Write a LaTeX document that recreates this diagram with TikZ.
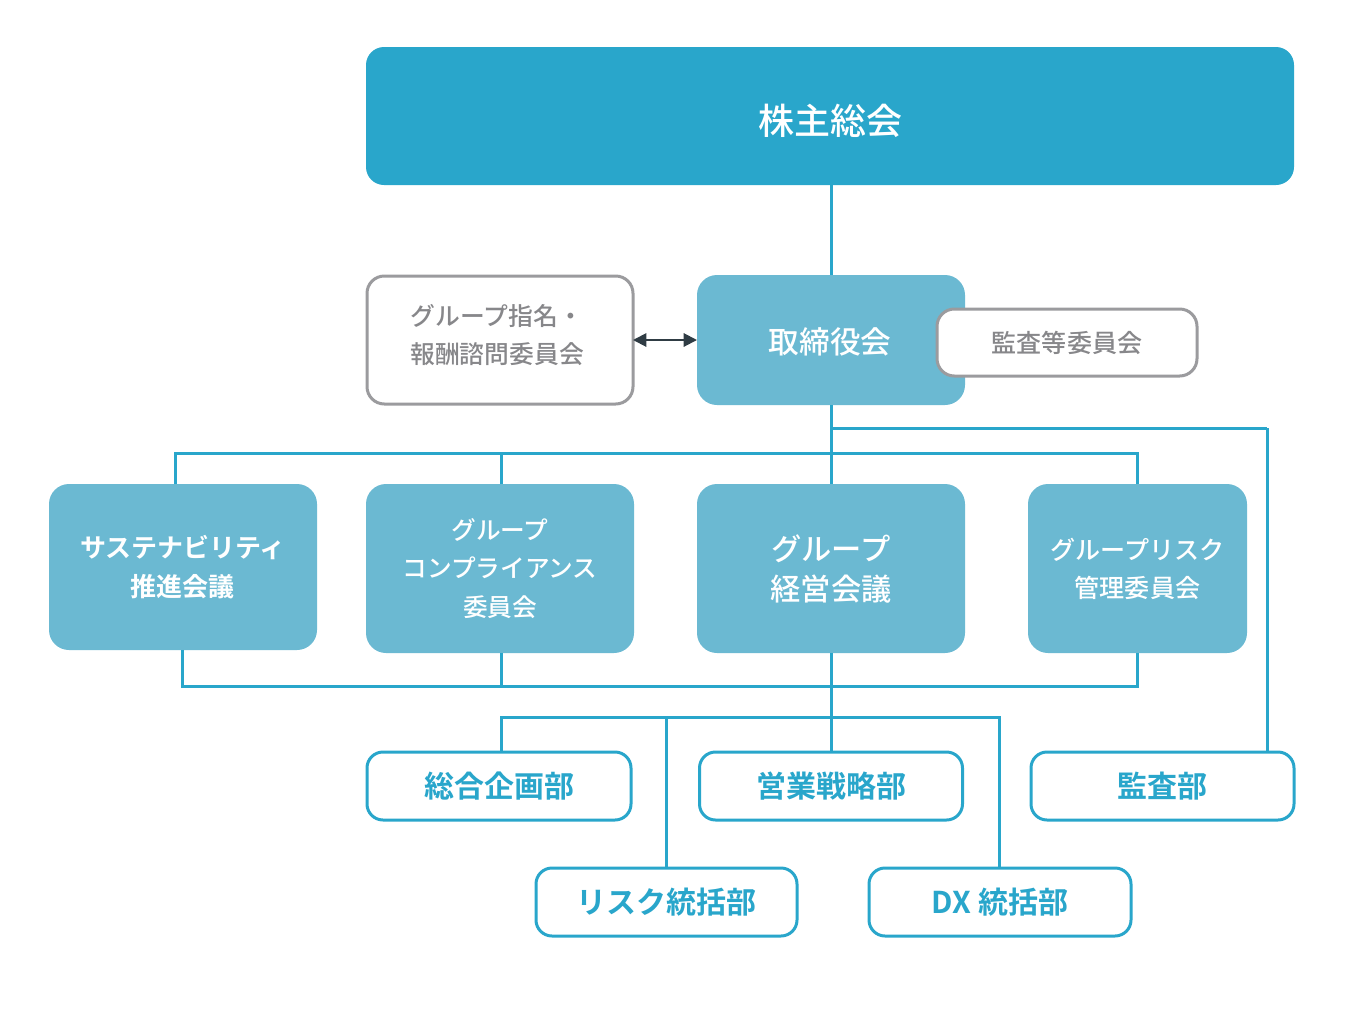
\documentclass[tikz,border=0pt]{standalone}
\usepackage{fontspec}
\setmainfont{Noto Sans CJK JP}[UprightFont={* Medium},BoldFont={* Bold}]
\usetikzlibrary{arrows.meta}
\definecolor{dblue}{RGB}{41,166,203}
\definecolor{lblue}{RGB}{107,185,210}
\definecolor{gborder}{RGB}{155,155,158}
\definecolor{gtext}{RGB}{135,135,138}
\definecolor{arrowc}{RGB}{47,60,68}
\newcommand{\fsz}[2]{\fontsize{#1}{#2}\selectfont}
\tikzset{
  px/.style={x=0.75pt,y=-0.75pt},
  topbox/.style={fill=dblue,draw=none,rounded corners=13.5pt,text=white,align=center},
  midbox/.style={fill=lblue,draw=none,rounded corners=15pt,text=white,align=center},
  graybox/.style={fill=white,draw=gborder,line width=2.25pt,rounded corners=13pt,text=gtext,align=center},
  deptbox/.style={fill=white,draw=dblue,line width=2.25pt,rounded corners=12pt,text=dblue,align=center},
  conn/.style={draw=dblue,line width=2.25pt},
  lbl/.style={align=center,inner sep=0pt},
  sz/.style 2 args={minimum width={#1*0.75pt},minimum height={#2*0.75pt},inner sep=0pt,outer sep=0pt}
}
\begin{document}
\begin{tikzpicture}[px]
\useasboundingbox (0,0) rectangle (1350,1021);
% coordinates for connector routes
\coordinate (t1) at (175,453);
\coordinate (t2) at (182,686);
\coordinate (t3) at (831,428);
\coordinate (t4) at (1267,428);
\coordinate (t5) at (501,717);
\coordinate (t6) at (999,717);

\node[topbox,sz={928}{138}] (kabu) at (830,116) {};
\node[lbl,text=white,font=\fsz{27pt}{32pt}] (kabutext) at (830,121) {株主総会};
\node[midbox,sz={268}{130}] (tori) at (831,340) {};
\node[lbl,text=white,font=\fsz{23pt}{28pt}] (toritext) at (830,342) {取締役会};
\node[midbox,sz={268}{166},font=\fsz{19.5pt}{29pt}\bfseries] (sus) at (183,567) {サステナビリティ\\推進会議};
\node[midbox,sz={268}{169},font=\fsz{18.5pt}{28.8pt}] (comp) at (500,568.5) {グループ\\コンプライアンス\\委員会};
\node[midbox,sz={268}{169},font=\fsz{22.7pt}{30pt}] (keiei) at (831,568.5) {グループ\\経営会議};
\node[midbox,sz={219}{169},font=\fsz{18.8pt}{28.5pt}] (risk) at (1137.5,568.5) {グループリスク\\管理委員会};

\draw[conn] (kabu.south -| tori.north) -- (tori.north);
\draw[conn] (tori.south) -- (keiei.north);
\draw[conn] (sus.north -| t1) -- (t1) -- (t1 -| 1137,0) -- (1137,0 |- risk.north);
\draw[conn] (comp.north -| t5) -- (t5 |- t1);
\draw[conn] (sus.south -| t2) -- (t2) -- (t2 -| 1137,0) -- (1137,0 |- risk.south);
\draw[conn] (comp.south -| t5) -- (t5 |- t2);
\draw[conn] (t3) -- (t4);

\node[deptbox,sz={264}{68},font=\fsz{22.5pt}{26pt}\bfseries] (sogo) at (499,786) {総合企画部};
\node[deptbox,sz={263}{68},font=\fsz{22.5pt}{26pt}\bfseries] (eigyo) at (831,786) {営業戦略部};
\node[deptbox,sz={263}{68},font=\fsz{22.5pt}{26pt}\bfseries] (kansabu) at (1162.5,786) {監査部};
\node[deptbox,sz={261}{68},font=\fsz{22.5pt}{26pt}\bfseries] (riskbu) at (666.5,902) {リスク統括部};
\node[deptbox,sz={262}{68},font=\fsz{22.5pt}{26pt}\bfseries] (dx) at (1000,902) {DX 統括部};

\draw[conn] (keiei.south) -- (eigyo.north);
\draw[conn] (t4) -- (t4 |- kansabu.north);
\draw[conn] (t5 |- sogo.north) -- (t5) -- (t6) -- (t6 |- dx.north);
\draw[conn] (riskbu.north) -- (riskbu.north |- t5);

\node[graybox,sz={266}{128}] (shimei) at (500,340) {};
\node[lbl,text=gtext,font=\fsz{18.6pt}{28.5pt}] (shimeitext) at (497,335.5) {グループ指名・\\報酬諮問委員会};
\node[graybox,sz={260}{67},font=\fsz{18.8pt}{24pt}] (kansa) at (1067,342.5) {監査等委員会};

\draw[arrowc,line width=1.5pt,{Triangle[length=10pt,width=10pt]}-{Triangle[length=10pt,width=10pt]}] (shimei.east) -- (tori.west);
\end{tikzpicture}
\end{document}
